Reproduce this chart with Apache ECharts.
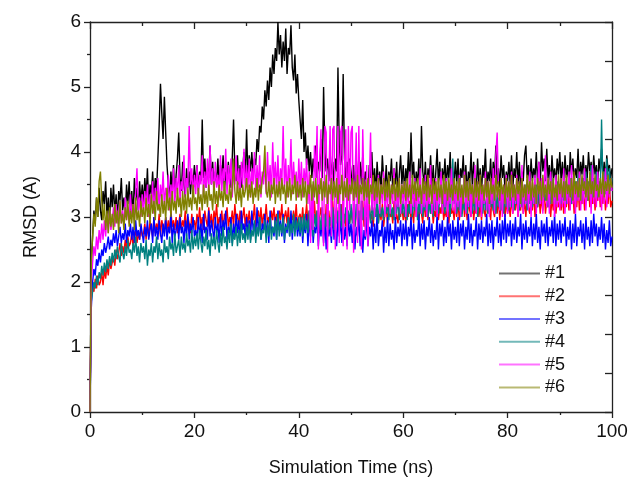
<!DOCTYPE html>
<html>
<head>
<meta charset="utf-8">
<script src="https://cdn.jsdelivr.net/npm/echarts@6/dist/echarts.min.js"></script>
<style>html,body{margin:0;padding:0;background:#fff}#c{width:637px;height:490px}</style>
</head>
<body>
<div id="c"></div>
<script>
const seriesNames = ['#1','#2','#3','#4','#5','#6'];
const stepNs = 0.25;
const rmsd1 = [0,
2.3,2.7,3.1,2.9,3.3,3.0,3.45,3.1,2.95,3.4,3.2,3.55,3.0,3.3,2.9,3.45,3.15,3.5,3.05,3.35,2.95,3.4,3.25,3.6,3.1,3.3,3.0,3.5,3.2,3.55,3.1,3.4,3.0,3.6,3.25,3.45,3.1,3.55,3.2,3.5,
3.2,3.6,3.3,3.75,3.15,3.5,3.35,3.7,3.25,3.6,3.4,3.9,4.4,5.05,4.6,4.2,4.85,4.3,3.8,3.5,3.3,3.7,3.4,3.8,3.3,3.65,3.9,4.3,3.6,3.4,3.85,3.5,3.3,3.75,3.45,3.7,3.35,3.65,3.5,3.8,
3.5,3.8,3.4,3.7,3.55,4.5,3.6,3.9,3.45,3.75,3.6,4.1,3.5,3.85,3.4,3.7,3.55,3.9,3.45,3.8,3.6,3.95,3.4,3.7,3.5,3.85,3.6,3.45,3.9,4.5,3.7,3.55,3.95,3.5,3.8,3.45,3.75,4.0,3.6,4.35,
3.6,3.95,3.7,4.0,3.65,3.9,3.8,4.2,4.0,4.4,4.3,4.7,4.5,4.95,4.7,5.1,4.8,5.3,5.0,5.5,5.2,5.6,5.4,6.0,5.5,5.8,5.3,5.7,5.4,5.9,5.2,5.6,5.5,5.95,5.3,5.1,5.5,4.9,5.2,4.8,
4.5,4.2,4.8,4.0,4.3,3.8,4.1,3.7,4.0,3.6,3.9,3.7,4.1,3.6,3.85,3.7,4.2,3.6,5.0,4.0,3.7,3.9,3.55,4.0,3.65,3.85,3.5,3.9,3.7,5.3,4.1,3.8,3.95,5.2,3.9,3.6,3.85,3.55,3.9,3.7,
3.45,3.8,3.35,3.9,3.6,3.4,3.85,3.5,3.95,3.4,3.7,3.55,3.3,3.8,3.6,4.0,3.45,3.75,3.35,3.85,3.5,3.7,3.4,3.95,3.6,3.45,3.8,3.35,3.7,3.55,3.9,3.4,3.75,3.5,3.85,3.3,3.65,3.95,3.5,3.8,
3.4,3.75,3.55,4.0,3.45,4.3,3.6,3.85,3.4,3.7,3.5,3.9,3.35,4.4,3.7,3.5,3.85,3.4,3.75,3.6,3.95,3.45,3.8,3.35,3.7,4.05,3.5,3.85,3.4,3.75,3.55,3.9,3.45,3.8,3.6,4.0,3.4,3.7,3.55,3.85,
3.5,3.9,3.4,3.75,3.6,3.95,3.45,3.8,3.35,3.7,3.55,4.0,3.45,3.85,3.6,3.4,3.9,3.5,3.75,3.35,3.8,3.6,4.05,3.45,3.7,3.55,3.9,3.4,3.85,3.6,4.1,3.5,3.75,3.45,3.95,3.6,3.8,3.4,3.7,3.55,
3.85,3.5,3.95,3.45,3.75,3.6,4.0,3.5,3.85,3.4,3.7,3.55,3.95,4.1,3.6,3.8,3.45,3.9,3.55,3.75,3.6,4.0,3.5,3.85,3.45,4.15,3.7,3.9,3.55,4.05,3.6,3.8,3.45,3.95,3.6,3.75,3.5,3.9,3.65,4.0,
3.55,3.85,3.5,3.95,3.6,3.8,3.45,4.0,3.65,3.9,3.55,3.75,3.6,4.05,3.5,3.85,3.65,3.95,3.55,3.8,3.6,4.0,3.7,3.85,3.55,3.95,3.65,3.8,3.5,3.9,3.7,4.05,3.6,3.85,3.55,3.95,3.7,3.8,3.6,3.75];
const rmsd2 = [0,
1.8,1.95,1.85,2.05,1.9,2.1,1.95,2.0,2.15,1.95,2.2,2.05,2.25,2.1,2.35,2.2,2.3,2.4,2.25,2.5,2.35,2.45,2.6,2.4,2.55,2.45,2.65,2.5,2.7,2.55,2.6,2.75,2.55,2.7,2.8,2.6,2.75,2.65,2.85,2.7,
2.75,2.9,2.65,2.85,2.7,2.95,2.8,2.7,3.0,2.75,2.9,2.8,3.05,2.7,2.95,2.85,2.75,3.0,2.8,2.95,2.75,3.1,2.85,2.95,2.8,3.0,2.75,2.9,3.05,2.8,2.95,2.85,3.1,2.8,3.0,2.9,2.75,3.05,2.85,2.95,
2.8,3.05,2.9,3.15,2.85,3.0,2.8,3.1,2.95,2.85,3.15,2.9,3.05,2.8,3.1,2.95,3.2,2.85,3.0,2.9,3.1,2.8,3.05,2.95,3.15,2.85,3.0,2.9,3.1,2.85,3.2,2.95,3.05,2.85,3.1,2.9,3.0,3.15,2.85,3.05,
2.9,3.1,2.85,3.05,2.95,3.2,2.85,3.0,3.1,2.9,3.15,2.85,3.05,2.95,3.2,2.9,3.0,2.85,3.1,2.95,3.15,2.9,3.05,2.8,3.1,2.95,3.2,2.85,3.0,3.1,2.9,3.15,2.85,3.05,2.95,3.1,2.9,3.2,2.85,3.0,
3.05,2.9,3.15,2.85,3.0,3.2,2.9,3.1,2.8,3.05,2.95,3.25,2.9,3.1,2.85,3.0,3.15,2.9,3.05,2.8,3.2,2.95,3.1,2.85,3.05,3.25,2.9,3.0,3.15,2.85,3.1,2.95,3.2,2.9,3.05,2.85,3.15,3.0,2.9,3.1,
2.95,3.15,2.85,3.05,3.2,2.9,3.1,2.95,3.25,2.85,3.0,3.15,2.9,3.2,2.95,3.05,2.85,3.15,3.0,3.25,2.9,3.1,2.95,3.2,2.85,3.05,3.15,2.9,3.2,3.0,3.1,2.9,3.25,2.95,3.05,2.9,3.15,3.0,3.2,2.95,
3.1,2.9,3.2,3.0,3.25,2.95,3.1,2.9,3.3,3.0,3.15,2.95,3.2,3.05,2.9,3.25,3.0,3.15,2.95,3.3,3.05,3.2,2.9,3.1,3.0,3.25,2.95,3.15,3.05,3.3,2.95,3.1,3.0,3.2,2.9,3.25,3.05,3.15,2.95,3.2,
3.0,3.25,2.95,3.15,3.05,3.3,3.0,3.2,2.95,3.25,3.1,3.0,3.3,2.95,3.15,3.05,3.35,3.0,3.2,2.95,3.25,3.1,3.0,3.3,3.05,3.2,2.95,3.35,3.1,3.0,3.25,3.05,3.3,2.95,3.2,3.1,3.35,3.0,3.25,3.05,
3.2,3.0,3.3,3.05,3.25,3.1,3.35,3.0,3.2,3.1,3.4,3.05,3.25,3.0,3.35,3.15,3.05,3.3,3.1,3.4,3.0,3.25,3.15,3.35,3.05,3.3,3.1,3.45,3.05,3.25,3.15,3.35,3.0,3.3,3.1,3.4,3.05,3.25,3.15,3.3,
3.1,3.35,3.05,3.3,3.15,3.45,3.1,3.3,3.2,3.4,3.05,3.35,3.15,3.5,3.1,3.3,3.2,3.45,3.1,3.35,3.25,3.5,3.15,3.4,3.2,3.55,3.1,3.35,3.25,3.5,3.15,3.4,3.2,3.45,3.1,3.3,3.2,3.5,3.15,3.25];
const rmsd3 = [0,
1.6,2.0,2.2,2.1,2.35,2.25,2.45,2.3,2.5,2.4,2.6,2.45,2.55,2.7,2.5,2.65,2.55,2.75,2.6,2.8,2.55,2.7,2.85,2.6,2.75,2.65,2.9,2.6,2.8,2.7,2.9,2.65,2.85,2.6,2.95,2.7,2.8,2.65,2.9,2.75,
2.6,2.85,2.7,2.95,2.65,2.8,2.9,2.6,3.0,2.7,2.85,2.65,2.95,2.75,2.6,2.9,2.7,3.0,2.65,2.85,2.75,3.05,2.6,2.9,2.7,2.8,2.95,2.65,3.0,2.75,2.85,2.6,2.95,2.7,3.05,2.65,2.9,2.75,3.0,2.7,
2.8,2.65,3.0,2.7,2.9,2.6,3.05,2.75,2.85,2.65,3.1,2.7,2.95,2.8,2.65,3.0,2.75,2.9,2.6,3.05,2.7,2.95,2.8,3.1,2.65,2.85,2.75,3.0,2.6,2.9,2.7,3.05,2.75,2.95,2.65,3.1,2.8,2.9,2.7,3.0,
2.75,2.95,2.65,3.1,2.8,2.9,2.7,3.15,2.75,3.0,2.65,2.9,2.8,3.05,2.7,2.95,2.6,3.1,2.75,2.85,2.7,3.0,2.65,3.1,2.8,2.95,2.7,3.05,2.6,2.9,2.75,3.0,2.7,3.1,2.65,2.95,2.8,3.0,2.7,2.9,
2.7,3.0,2.6,2.9,2.75,3.05,2.55,2.95,2.7,3.1,2.6,2.85,2.75,3.0,2.55,2.9,2.7,3.05,2.6,2.95,2.5,3.0,2.7,2.85,2.6,3.1,2.65,2.9,2.55,3.0,2.7,2.95,2.6,3.05,2.65,2.85,2.55,3.0,2.7,2.9,
2.6,2.95,2.5,2.85,2.7,3.0,2.55,2.9,2.45,2.8,2.65,3.0,2.55,2.85,2.7,2.95,2.5,2.9,2.6,3.05,2.55,2.8,2.7,2.95,2.45,2.85,2.6,3.0,2.55,2.9,2.65,2.8,2.5,3.0,2.6,2.85,2.7,2.95,2.55,2.9,
2.65,2.95,2.55,2.85,2.7,3.0,2.5,2.9,2.6,2.8,2.7,3.05,2.55,2.9,2.65,2.95,2.5,2.85,2.7,3.0,2.6,2.9,2.55,2.8,2.65,3.05,2.5,2.9,2.7,2.95,2.55,2.85,2.6,3.0,2.7,2.9,2.5,2.95,2.65,2.85,
2.6,3.0,2.55,2.9,2.7,2.95,2.5,2.85,2.65,3.05,2.6,2.9,2.55,2.8,2.7,3.0,2.5,2.9,2.65,2.95,2.6,2.85,2.7,3.05,2.55,2.9,2.6,2.95,2.5,2.85,2.7,3.0,2.6,2.9,2.55,2.95,2.65,3.05,2.6,2.9,
2.7,2.95,2.55,2.9,2.65,3.0,2.6,2.85,2.7,3.05,2.5,2.9,2.65,2.95,2.6,2.85,2.7,3.0,2.55,2.9,2.65,3.05,2.6,2.85,2.5,2.95,2.7,2.9,2.6,3.0,2.55,2.85,2.7,2.95,2.6,3.05,2.55,2.9,2.65,2.95,
2.6,2.9,2.7,3.0,2.55,2.85,2.65,2.95,2.5,2.9,2.6,3.05,2.55,2.85,2.7,2.95,2.6,2.9,2.5,3.0,2.65,2.85,2.55,2.95,2.6,3.05,2.7,2.9,2.55,2.85,2.65,3.0,2.6,2.9,2.5,2.8,2.6,2.95,2.55,2.7];
const rmsd4 = [0,
1.7,1.85,2.0,1.9,2.1,1.95,2.15,2.05,2.25,2.1,2.3,2.15,2.35,2.2,2.4,2.25,2.45,2.3,2.5,2.35,2.55,2.4,2.3,2.6,2.45,2.35,2.55,2.4,2.65,2.45,2.5,2.35,2.6,2.45,2.7,2.4,2.55,2.3,2.6,2.45,
2.55,2.35,2.65,2.25,2.5,2.4,2.6,2.3,2.55,2.45,2.7,2.35,2.6,2.4,2.5,2.3,2.65,2.45,2.55,2.35,2.7,2.5,2.6,2.4,2.75,2.45,2.55,2.65,2.4,2.7,2.5,2.6,2.45,2.75,2.55,2.65,2.45,2.8,2.5,2.7,
2.55,2.75,2.5,2.8,2.6,2.45,2.7,2.55,2.8,2.5,2.65,2.4,2.75,2.55,2.7,2.5,2.8,2.6,2.45,2.75,2.55,2.85,2.6,2.7,2.5,2.8,2.6,2.9,2.55,2.75,2.65,2.85,2.55,2.8,2.6,2.9,2.65,2.75,2.6,2.85,
2.65,2.9,2.6,2.8,2.7,2.95,2.6,2.85,2.7,3.0,2.65,2.8,2.75,2.95,2.6,2.9,2.7,3.0,2.65,2.85,2.75,2.95,2.65,3.05,2.7,2.9,2.75,3.0,2.65,2.85,2.8,3.0,2.7,2.9,2.75,3.05,2.7,2.95,2.8,3.0,
2.75,3.0,2.7,3.05,2.8,2.95,2.75,3.1,2.8,3.0,2.7,3.05,2.85,3.1,2.75,3.0,2.8,3.15,2.75,3.05,2.85,3.1,2.8,3.0,2.85,3.15,2.8,3.05,2.9,3.1,2.8,3.2,2.85,3.05,2.9,3.15,2.85,3.1,2.9,3.2,
2.9,3.15,2.85,3.2,2.95,3.1,2.9,3.25,2.95,3.15,2.85,3.2,3.0,3.1,2.9,3.25,2.95,3.15,3.0,3.3,2.9,3.2,3.0,3.15,2.95,3.25,3.05,3.2,2.95,3.3,3.0,3.15,2.95,3.25,3.05,3.3,2.95,3.2,3.05,3.25,
3.0,3.3,2.95,3.2,3.05,3.35,3.0,3.25,3.1,3.3,2.95,3.25,3.05,3.35,3.0,3.2,3.1,3.35,3.0,3.25,3.05,3.3,3.0,3.4,3.1,3.25,3.05,3.3,3.6,3.1,3.3,3.05,3.35,3.1,3.3,3.0,3.45,3.9,3.2,3.35,
3.05,3.3,3.1,3.4,3.0,3.25,3.1,3.35,3.05,3.3,3.15,3.4,3.05,3.3,3.1,3.35,3.0,3.25,3.15,3.4,3.05,3.35,3.1,3.3,3.05,3.4,3.15,3.3,3.1,3.45,3.05,3.35,3.15,3.3,3.1,3.4,3.05,3.35,3.15,3.4,
3.1,3.35,3.15,3.45,3.1,3.3,3.2,3.4,3.1,3.45,3.15,3.35,3.2,3.5,3.1,3.4,3.2,3.45,3.15,3.35,3.2,3.5,3.15,3.4,3.2,3.55,3.15,3.45,3.25,3.4,3.15,3.5,3.2,3.6,3.25,3.45,3.2,3.55,3.25,3.5,
3.2,3.45,3.25,3.55,3.2,3.5,3.3,3.6,3.2,3.45,3.3,3.55,3.25,3.65,3.3,3.5,3.25,3.6,3.35,3.7,3.25,3.55,3.35,3.8,3.3,3.6,3.4,3.7,3.3,3.55,3.4,4.5,3.5,3.7,3.35,3.9,3.45,3.75,3.4,3.6];
const rmsd5 = [0,
2.0,2.3,2.55,2.4,2.7,2.5,2.8,2.6,2.9,2.65,2.95,2.7,3.05,2.75,3.1,2.8,2.95,3.15,2.85,3.2,2.9,3.05,3.25,2.9,3.1,2.85,3.3,2.95,3.15,2.9,3.35,3.0,3.2,2.95,3.4,3.75,3.1,3.3,3.0,3.35,
3.05,3.4,3.1,3.5,3.0,3.35,3.15,3.55,3.05,3.45,3.2,3.6,3.1,3.5,3.25,3.7,3.15,3.45,3.3,3.65,3.1,3.5,3.25,3.75,3.2,3.6,3.35,3.8,3.25,3.55,3.4,3.95,3.3,3.6,3.45,4.4,3.5,3.75,3.3,3.65,
3.35,3.8,3.3,3.65,3.5,3.95,3.3,3.7,3.45,3.9,3.35,4.1,3.5,3.75,3.3,3.85,3.45,3.65,3.3,3.95,3.4,3.75,3.55,4.05,3.35,3.8,3.45,3.9,3.3,3.7,3.5,3.95,3.4,3.75,3.3,3.85,3.5,4.05,3.4,3.8,
3.45,3.9,3.3,3.75,3.5,4.0,3.35,3.8,3.45,3.95,3.3,3.7,3.5,3.85,3.35,4.0,3.45,3.8,3.3,4.15,3.5,3.85,3.4,3.95,3.35,3.75,3.5,4.4,3.45,3.9,3.3,3.8,3.5,4.2,3.35,3.85,3.45,3.7,3.3,3.9,
3.4,3.85,3.3,3.75,3.5,3.9,3.2,3.7,2.6,3.5,2.8,4.1,3.6,4.4,2.5,3.9,4.35,3.0,2.55,4.4,4.3,2.45,3.6,4.4,2.7,4.35,4.4,2.5,3.2,4.4,2.6,4.3,4.4,2.55,3.8,4.35,2.5,4.4,3.1,4.3,
4.4,2.45,3.5,4.3,2.6,4.4,3.0,2.5,4.35,3.4,2.7,3.8,2.55,3.5,4.3,3.1,3.6,3.0,3.45,3.2,3.65,3.05,3.5,3.2,3.7,3.0,3.45,3.15,3.6,3.05,3.5,3.2,3.75,3.0,3.45,3.15,3.6,3.05,3.5,3.2,
3.55,3.0,3.45,3.2,3.7,3.05,3.5,3.15,3.6,3.0,3.4,3.2,3.75,3.05,3.5,3.15,3.65,3.0,3.45,3.2,3.8,3.05,3.55,3.1,3.6,3.0,3.45,3.2,3.7,3.05,3.5,3.15,3.6,3.0,3.45,3.2,3.75,3.1,3.55,3.05,
3.5,3.15,3.65,3.0,3.45,3.2,3.7,3.05,3.55,3.15,3.6,3.0,3.5,3.2,3.8,3.05,3.55,3.15,3.65,3.0,3.5,3.2,3.7,3.1,3.55,3.0,3.6,3.2,3.75,3.05,3.95,4.3,3.4,3.1,3.6,3.0,3.5,3.2,3.65,3.05,
3.55,3.15,3.7,3.05,3.5,3.2,3.65,3.0,3.55,3.15,3.8,3.05,3.5,3.2,3.6,3.1,3.7,3.0,3.55,3.2,3.65,3.05,3.5,3.85,3.2,3.6,3.05,3.5,3.95,3.15,3.6,3.05,3.7,3.2,3.55,3.0,3.65,3.15,3.5,3.1,
3.6,3.15,3.75,3.05,3.55,3.2,3.7,3.1,3.8,3.2,3.6,3.05,3.55,3.25,3.7,3.1,3.6,3.2,3.75,3.1,3.55,3.25,3.65,3.05,3.8,3.2,3.6,3.15,3.7,3.25,3.55,3.1,3.65,3.2,3.75,3.15,3.55,3.3,3.6,3.4];
const rmsd6 = [0,
2.3,2.7,3.05,2.85,3.3,3.0,3.55,3.7,3.25,2.95,3.2,2.8,3.1,2.75,3.15,2.85,3.05,2.8,3.2,2.9,3.1,2.75,3.25,2.9,3.05,2.8,3.15,2.95,3.25,2.85,3.1,2.9,3.2,2.8,3.3,2.95,3.1,2.85,3.25,3.0,
3.15,2.9,3.3,3.0,3.2,2.9,3.35,3.05,3.25,2.95,3.4,3.1,3.2,3.0,3.35,3.05,3.25,2.95,3.45,3.1,3.3,3.0,3.4,3.1,3.25,3.05,3.45,3.15,3.3,3.0,3.4,3.1,3.35,3.05,3.45,3.15,3.3,3.1,3.5,3.2,
3.3,3.1,3.45,3.2,3.35,3.1,3.5,3.2,3.4,3.15,3.5,3.25,3.35,3.1,3.55,3.2,3.4,3.15,3.5,3.25,3.4,3.15,3.55,3.25,3.35,3.2,3.5,3.25,3.45,3.9,3.4,3.2,3.55,3.25,3.45,3.15,3.5,3.3,3.4,3.6,
3.25,3.5,3.3,3.55,3.2,3.45,3.3,3.6,3.25,3.5,3.35,3.6,3.7,4.1,3.4,3.3,3.55,3.25,3.5,3.35,3.6,3.2,3.5,3.3,3.55,3.25,3.6,3.35,3.5,3.2,3.55,3.3,3.6,3.25,3.5,3.35,3.65,3.25,3.55,3.3,
3.5,3.25,3.6,3.3,3.55,3.2,3.5,3.35,3.65,3.25,3.55,3.3,3.6,3.2,3.5,3.35,3.6,3.25,3.55,3.3,3.65,3.2,3.5,3.35,3.6,3.25,3.55,3.3,3.6,3.2,3.5,3.35,3.65,3.25,3.55,3.3,3.6,3.25,3.5,3.35,
3.6,3.25,3.55,3.3,3.65,3.2,3.5,3.35,3.6,3.25,3.55,3.3,3.6,3.2,3.5,3.35,3.65,3.25,3.55,3.3,3.6,3.2,3.5,3.35,3.6,3.25,3.55,3.3,3.65,3.2,3.5,3.35,3.6,3.25,3.55,3.3,3.6,3.2,3.5,3.35,
3.55,3.25,3.6,3.3,3.5,3.2,3.65,3.35,3.55,3.25,3.6,3.3,3.5,3.2,3.6,3.35,3.55,3.25,3.65,3.3,3.5,3.2,3.6,3.35,3.55,3.25,3.6,3.3,3.5,3.2,3.65,3.35,3.55,3.25,3.6,3.3,3.5,3.25,3.6,3.35,
3.55,3.25,3.6,3.3,3.5,3.2,3.65,3.3,3.55,3.25,3.6,3.35,3.5,3.2,3.6,3.3,3.55,3.25,3.65,3.35,3.5,3.25,3.6,3.3,3.55,3.2,3.6,3.35,3.5,3.25,3.65,3.3,3.55,3.25,3.6,3.35,3.5,3.2,3.6,3.3,
3.55,3.25,3.65,3.3,3.5,3.25,3.6,3.35,3.55,3.2,3.6,3.3,3.5,3.25,3.65,3.35,3.55,3.25,3.6,3.3,3.5,3.2,3.6,3.35,3.55,3.25,3.65,3.3,3.5,3.25,3.6,3.35,3.55,3.2,3.6,3.3,3.5,3.25,3.65,3.35,
3.6,3.3,3.55,3.25,3.65,3.35,3.5,3.3,3.6,3.25,3.7,3.35,3.55,3.3,3.6,3.25,3.65,3.4,3.55,3.3,3.6,3.25,3.7,3.35,3.55,3.3,3.65,3.4,3.5,3.3,3.6,3.35,3.7,3.3,3.55,3.4,3.65,3.35,3.6,3.45];
const allValues = [rmsd1, rmsd2, rmsd3, rmsd4, rmsd5, rmsd6];
const colors = ['#000000','#ff0000','#0000ff','#008080','#ff00ff','#808000'];
const xTickLabels = [0,20,40,60,80,100];
const yTickLabels = [0,1,2,3,4,5,6];

const FONT = '"Liberation Sans", Arial, sans-serif';
const chart = echarts.init(document.getElementById('c'), null, {renderer:'canvas'});
const series = allValues.map((vals, k) => ({
  name: seriesNames[k],
  type: 'line',
  xAxisIndex: 0, yAxisIndex: 0,
  symbol: 'none',
  showSymbol: false,
  animation: false,
  lineStyle: {color: colors[k], width: 1.4, opacity: 1},
  itemStyle: {color: colors[k]},
  data: vals.map((v, i) => [i * stepNs, v])
}));
const option = {
  animation: false,
  backgroundColor: '#fff',
  grid: {left: 90, right: 25, top: 22, bottom: 78, containLabel: false},
  legend: {
    orient: 'vertical', left: 499, top: 262, padding: 0, itemGap: 0,
    itemWidth: 41, itemHeight: 2, icon: 'rect',
    textStyle: {fontFamily: FONT, fontSize: 18, color: '#111', lineHeight: 22.8},
    data: seriesNames.map((n, k) => ({name: n, itemStyle: {opacity: 0.55}})),
    selectedMode: false
  },
  xAxis: [{
    type: 'value', min: 0, max: 100, interval: 20, position: 'bottom',
    name: 'Simulation Time (ns)', nameLocation: 'middle', nameGap: 47,
    nameTextStyle: {fontFamily: FONT, fontSize: 18, color: '#111'},
    axisLine: {show: true, onZero: false, lineStyle: {color: '#222', width: 1.3}},
    axisTick: {show: true, inside: false, length: 6, lineStyle: {color: '#222', width: 1.3}},
    minorTick: {show: true, splitNumber: 2, length: 3, lineStyle: {color: '#222', width: 1.3}},
    axisLabel: {fontFamily: FONT, fontSize: 19, color: '#111', margin: 10,
      formatter: v => xTickLabels.includes(v) ? String(v) : ''},
    splitLine: {show: false}
  }, {
    type: 'value', min: 0, max: 100, interval: 20, position: 'top',
    axisLine: {show: true, onZero: false, lineStyle: {color: '#222', width: 1.3}},
    axisTick: {show: true, inside: true, length: 7, lineStyle: {color: '#222', width: 1.3}},
    minorTick: {show: true, splitNumber: 2, length: 4, lineStyle: {color: '#222', width: 1.3}},
    axisLabel: {show: false}, splitLine: {show: false}
  }],
  yAxis: [{
    type: 'value', min: 0, max: 6, interval: 1, position: 'left',
    name: 'RMSD (A)', nameLocation: 'middle', nameGap: 50, nameRotate: 90,
    nameTextStyle: {fontFamily: FONT, fontSize: 18, color: '#111'},
    axisLine: {show: true, onZero: false, lineStyle: {color: '#222', width: 1.3}},
    axisTick: {show: true, inside: false, length: 6, lineStyle: {color: '#222', width: 1.3}},
    minorTick: {show: true, splitNumber: 2, length: 3, lineStyle: {color: '#222', width: 1.3}},
    axisLabel: {fontFamily: FONT, fontSize: 19, color: '#111', margin: 9,
      formatter: v => yTickLabels.includes(v) ? String(v) : ''},
    splitLine: {show: false}
  }, {
    type: 'value', min: 0, max: 6, interval: 0.6, position: 'right',
    axisLine: {show: true, onZero: false, lineStyle: {color: '#222', width: 1.3}},
    axisTick: {show: true, inside: true, length: 7, lineStyle: {color: '#222', width: 1.3}},
    axisLabel: {show: false}, splitLine: {show: false}
  }],
  series: series
};
chart.setOption(option);
</script>
</body>
</html>
